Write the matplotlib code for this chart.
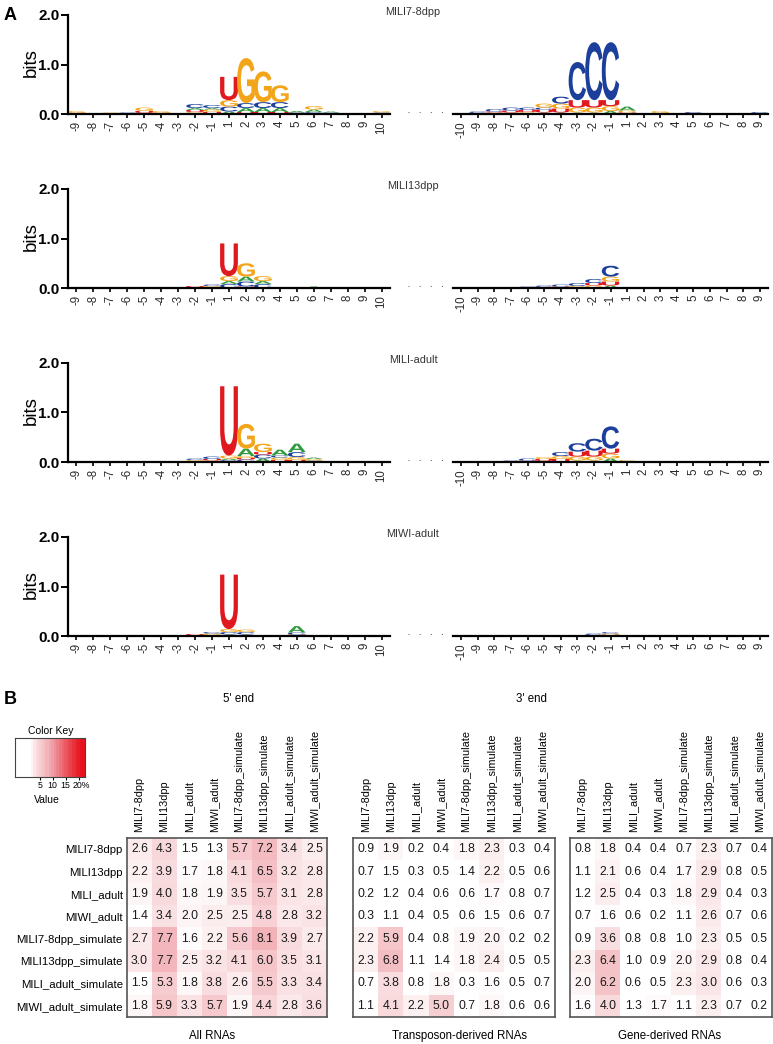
import matplotlib
matplotlib.use("Agg")
import matplotlib.pyplot as plt
import numpy as np
from matplotlib.textpath import TextPath
from matplotlib.patches import PathPatch
from matplotlib.font_manager import FontProperties
import matplotlib.transforms as mtransforms
from matplotlib.colors import LinearSegmentedColormap, PowerNorm

plt.rcParams['font.family'] = ['Liberation Sans', 'DejaVu Sans']

# ---------------- DATA ----------------
positions_5p = ["-9", "-8", "-7", "-6", "-5", "-4", "-3", "-2", "-1",
                "1", "2", "3", "4", "5", "6", "7", "8", "9", "10"]
positions_3p = ["-10", "-9", "-8", "-7", "-6", "-5", "-4", "-3", "-2", "-1",
                "1", "2", "3", "4", "5", "6", "7", "8", "9"]
sample_titles = ["MILI7-8dpp", "MILI13dpp", "MILI-adult", "MIWI-adult"]

# stacks: position -> [(letter, bits), ...] bottom to top
logo5_mili78 = {
    "-9": [("C", 0.02), ("G", 0.04)], "-8": [("G", 0.02)], "-7": [("G", 0.03)],
    "-6": [("C", 0.03)], "-5": [("A", 0.02), ("U", 0.04), ("G", 0.07)],
    "-4": [("C", 0.02), ("G", 0.04)], "-3": [("G", 0.02)],
    "-2": [("G", 0.04), ("U", 0.04), ("A", 0.04), ("C", 0.08)],
    "-1": [("U", 0.04), ("G", 0.05), ("A", 0.03), ("C", 0.06)],
    "1": [("A", 0.05), ("C", 0.10), ("G", 0.13), ("U", 0.47)],
    "2": [("U", 0.04), ("A", 0.08), ("C", 0.10), ("G", 0.91)],
    "3": [("U", 0.04), ("A", 0.08), ("C", 0.12), ("G", 0.62)],
    "4": [("U", 0.04), ("A", 0.08), ("C", 0.12), ("G", 0.34)],
    "5": [("C", 0.03), ("A", 0.03)],
    "6": [("C", 0.04), ("A", 0.05), ("G", 0.07)],
    "7": [("C", 0.03), ("A", 0.02)], "8": [], "9": [("G", 0.02)],
    "10": [("C", 0.03), ("G", 0.03)],
}
logo3_mili78 = {
    "-10": [("C", 0.02)], "-9": [("A", 0.02), ("C", 0.03)],
    "-8": [("G", 0.03), ("U", 0.02), ("C", 0.05)],
    "-7": [("G", 0.03), ("U", 0.04), ("C", 0.06)],
    "-6": [("G", 0.04), ("U", 0.04), ("C", 0.05)],
    "-5": [("A", 0.03), ("U", 0.06), ("C", 0.04), ("G", 0.08)],
    "-4": [("A", 0.03), ("U", 0.08), ("G", 0.10), ("C", 0.14)],
    "-3": [("A", 0.03), ("G", 0.10), ("U", 0.15), ("C", 0.77)],
    "-2": [("A", 0.03), ("G", 0.10), ("U", 0.15), ("C", 1.17)],
    "-1": [("A", 0.06), ("G", 0.10), ("U", 0.12), ("C", 1.17)],
    "1": [("U", 0.03), ("G", 0.04), ("A", 0.08)], "2": [],
    "3": [("U", 0.02), ("G", 0.04)], "4": [], "5": [("C", 0.04)],
    "6": [("C", 0.02)], "7": [], "8": [], "9": [("C", 0.04)],
}
logo5_mili13 = {
    "-4": [("C", 0.02)], "-3": [("G", 0.02)],
    "-2": [("C", 0.02), ("U", 0.02)],
    "-1": [("U", 0.02), ("G", 0.02), ("C", 0.03)],
    "1": [("C", 0.08), ("A", 0.06), ("G", 0.10), ("U", 0.66)],
    "2": [("U", 0.03), ("C", 0.10), ("A", 0.10), ("G", 0.27)],
    "3": [("C", 0.08), ("A", 0.06), ("G", 0.10)],
    "4": [("C", 0.02)], "5": [("G", 0.02)], "6": [("A", 0.03)],
}
logo3_mili13 = {
    "-8": [("C", 0.02)], "-7": [("G", 0.02)], "-6": [("C", 0.03)],
    "-5": [("G", 0.02), ("C", 0.03)],
    "-4": [("U", 0.03), ("C", 0.04)],
    "-3": [("G", 0.04), ("C", 0.06)],
    "-2": [("G", 0.05), ("U", 0.05), ("C", 0.08)],
    "-1": [("A", 0.05), ("U", 0.08), ("G", 0.10), ("C", 0.22)],
    "1": [("G", 0.02)],
}
logo5_miliad = {
    "-3": [("C", 0.02)],
    "-2": [("U", 0.02), ("G", 0.02), ("C", 0.03)],
    "-1": [("G", 0.03), ("U", 0.03), ("C", 0.05)],
    "1": [("C", 0.04), ("A", 0.03), ("G", 0.06), ("U", 1.40)],
    "2": [("C", 0.05), ("U", 0.03), ("G", 0.04), ("A", 0.15), ("G", 0.50)],
    "3": [("A", 0.07), ("C", 0.08), ("U", 0.05), ("G", 0.17)],
    "4": [("U", 0.04), ("G", 0.05), ("C", 0.04), ("A", 0.12)],
    "5": [("U", 0.04), ("G", 0.06), ("C", 0.10), ("A", 0.17)],
    "6": [("C", 0.03), ("G", 0.03), ("A", 0.03)],
    "7": [("A", 0.02)],
}
logo3_miliad = {
    "-7": [("C", 0.03)], "-6": [("U", 0.03), ("C", 0.04)],
    "-5": [("C", 0.02), ("U", 0.04), ("G", 0.04)],
    "-4": [("U", 0.06), ("G", 0.06), ("C", 0.08)],
    "-3": [("A", 0.03), ("G", 0.08), ("U", 0.10), ("C", 0.17)],
    "-2": [("A", 0.03), ("G", 0.08), ("U", 0.12), ("C", 0.24)],
    "-1": [("A", 0.07), ("G", 0.10), ("U", 0.10), ("C", 0.45)],
    "1": [("G", 0.04)],
}
logo5_miwiad = {
    "-2": [("C", 0.02), ("U", 0.02)],
    "-1": [("U", 0.02), ("G", 0.03), ("C", 0.03)],
    "1": [("A", 0.03), ("C", 0.05), ("G", 0.06), ("U", 1.10)],
    "2": [("A", 0.03), ("C", 0.05), ("G", 0.05)],
    "3": [("C", 0.02)],
    "5": [("U", 0.03), ("C", 0.04), ("A", 0.13)],
    "6": [("G", 0.02)],
}
logo3_miwiad = {
    "-3": [("C", 0.02)], "-2": [("U", 0.02), ("C", 0.03)],
    "-1": [("U", 0.03), ("G", 0.02), ("C", 0.03)],
}
logos_5p = [logo5_mili78, logo5_mili13, logo5_miliad, logo5_miwiad]
logos_3p = [logo3_mili78, logo3_mili13, logo3_miliad, logo3_miwiad]

heat_labels = ["MILI7-8dpp", "MILI13dpp", "MILI_adult", "MIWI_adult",
               "MILI7-8dpp_simulate", "MILI13dpp_simulate",
               "MILI_adult_simulate", "MIWI_adult_simulate"]
panel_titles = ["All RNAs", "Transposon-derived RNAs", "Gene-derived RNAs"]

all_rnas = [
    [2.6, 4.3, 1.5, 1.3, 5.7, 7.2, 3.4, 2.5],
    [2.2, 3.9, 1.7, 1.8, 4.1, 6.5, 3.2, 2.8],
    [1.9, 4.0, 1.8, 1.9, 3.5, 5.7, 3.1, 2.8],
    [1.4, 3.4, 2.0, 2.5, 2.5, 4.8, 2.8, 3.2],
    [2.7, 7.7, 1.6, 2.2, 5.6, 8.1, 3.9, 2.7],
    [3.0, 7.7, 2.5, 3.2, 4.1, 6.0, 3.5, 3.1],
    [1.5, 5.3, 1.8, 3.8, 2.6, 5.5, 3.3, 3.4],
    [1.8, 5.9, 3.3, 5.7, 1.9, 4.4, 2.8, 3.6],
]
transposon_rnas = [
    [0.9, 1.9, 0.2, 0.4, 1.8, 2.3, 0.3, 0.4],
    [0.7, 1.5, 0.3, 0.5, 1.4, 2.2, 0.5, 0.6],
    [0.2, 1.2, 0.4, 0.6, 0.6, 1.7, 0.8, 0.7],
    [0.3, 1.1, 0.4, 0.5, 0.6, 1.5, 0.6, 0.7],
    [2.2, 5.9, 0.4, 0.8, 1.9, 2.0, 0.2, 0.2],
    [2.3, 6.8, 1.1, 1.4, 1.8, 2.4, 0.5, 0.5],
    [0.7, 3.8, 0.8, 1.8, 0.3, 1.6, 0.5, 0.7],
    [1.1, 4.1, 2.2, 5.0, 0.7, 1.8, 0.6, 0.6],
]
gene_rnas = [
    [0.8, 1.8, 0.4, 0.4, 0.7, 2.3, 0.7, 0.4],
    [1.1, 2.1, 0.6, 0.4, 1.7, 2.9, 0.8, 0.5],
    [1.2, 2.5, 0.4, 0.3, 1.8, 2.9, 0.4, 0.3],
    [0.7, 1.6, 0.6, 0.2, 1.1, 2.6, 0.7, 0.6],
    [0.9, 3.6, 0.8, 0.8, 1.0, 2.3, 0.5, 0.5],
    [2.3, 6.4, 1.0, 0.9, 2.0, 2.9, 0.8, 0.4],
    [2.0, 6.2, 0.6, 0.5, 2.3, 3.0, 0.6, 0.3],
    [1.6, 4.0, 1.3, 1.7, 1.1, 2.3, 0.7, 0.2],
]
heat_data = [all_rnas, transposon_rnas, gene_rnas]
key_ticks = [5, 10, 15, 20]
key_ticklabels = ["5", "10", "15", "20%"]

# ---------------- STYLE ----------------
W, H = 773, 1044
fig = plt.figure(figsize=(W / 100, H / 100), dpi=100)
fig.patch.set_facecolor("white")


def rect(x0, y0, x1, y1):
    return [x0 / W, 1 - y1 / H, (x1 - x0) / W, (y1 - y0) / H]


def fx(x):
    return x / W


def fy(y):
    return 1 - y / H


LETTER_COLORS = {"U": "#e0191f", "G": "#f3a51a", "C": "#1c3f9b", "A": "#2f9a3e"}
fp = FontProperties(family="Liberation Sans", weight="bold")
_glyphs = {}


def draw_letter(ax, letter, x, y, w, h):
    if letter not in _glyphs:
        p = TextPath((0, 0), letter, size=1, prop=fp)
        _glyphs[letter] = (p, p.get_extents())
    p, ext = _glyphs[letter]
    t = (mtransforms.Affine2D().translate(-ext.x0, -ext.y0)
         .scale(w / ext.width, h / ext.height).translate(x - w / 2, y))
    ax.add_patch(PathPatch(t.transform_path(p), fc=LETTER_COLORS[letter],
                           ec="none", lw=0))


def draw_logo(ax, positions, stacks):
    for i, pos in enumerate(positions):
        y = 0.0
        for letter, h in stacks.get(pos, []):
            draw_letter(ax, letter, i, y, 1.05, h)
            y += h


def style_logo_axis(ax, positions, left):
    ax.set_xlim(-0.5, len(positions) - 0.5)
    ax.set_ylim(0, 2.0)
    for s in ["top", "right"]:
        ax.spines[s].set_visible(False)
    ax.spines["bottom"].set_linewidth(1.6)
    ax.set_xticks(range(len(positions)))
    ax.set_xticklabels(positions, rotation=90, fontsize=8.3, color="#2a2a2a")
    ax.set_xticks([4, 9, 14], minor=True)
    ax.tick_params(axis="x", which="major", length=3, width=1.2, pad=2)
    ax.tick_params(axis="x", which="minor", length=6, width=1.4)
    if left:
        ax.spines["left"].set_linewidth(1.6)
        ax.set_yticks([0, 1, 2])
        ax.set_yticklabels(["0.0", "1.0", "2.0"], fontsize=11, fontweight="bold")
        ax.tick_params(axis="y", length=5, width=1.4, pad=1)
    else:
        ax.spines["left"].set_visible(False)
        ax.set_yticks([])
    ax.patch.set_alpha(0)


for k in range(4):
    top = 15 + 174 * k
    bot = 114 + 174 * k
    axl = fig.add_axes(rect(68, top, 390, bot))
    style_logo_axis(axl, positions_5p, True)
    draw_logo(axl, positions_5p, logos_5p[k])
    axr = fig.add_axes(rect(453, top, 768, bot))
    style_logo_axis(axr, positions_3p, False)
    draw_logo(axr, positions_3p, logos_3p[k])
    fig.text(fx(31), fy((top + bot) / 2 - 2), "bits", rotation=90, fontsize=13.5,
             ha="center", va="center")
    fig.text(fx(413), fy(12 + 174 * k), sample_titles[k], fontsize=7.8,
             ha="center", va="center", color="#333333")
    fig.text(fx(426), fy(bot - 1), "·  ·  ·  ·", fontsize=9, ha="center",
             va="center", color="#555555")

fig.text(fx(4), fy(15), "A", fontsize=13, fontweight="bold", ha="left", va="center")
fig.text(fx(4), fy(700), "B", fontsize=13, fontweight="bold", ha="left", va="center")
fig.text(fx(239), fy(699), "5' end", fontsize=8.3, ha="center", va="center")
fig.text(fx(532), fy(699), "3' end", fontsize=8.3, ha="center", va="center")

# colour map
cmap = LinearSegmentedColormap.from_list("wr", ["#ffffff", "#f0a9b0", "#e8101a"])
norm = PowerNorm(gamma=0.75, vmin=1.5, vmax=21.0, clip=True)

# colour key
axk = fig.add_axes(rect(15, 738, 85, 777))
edges = np.arange(-4.5, 23.5, 1.0)
centers = (edges[:-1] + edges[1:]) / 2
axk.pcolormesh(edges, [0, 1], centers[None, :], cmap=cmap, norm=norm,
               shading="flat")
axk.set_xlim(-4.5, 22.5)
axk.set_ylim(0, 1)
axk.set_yticks([])
axk.set_xticks(key_ticks)
axk.set_xticklabels(key_ticklabels, fontsize=6.3)
axk.tick_params(axis="x", length=2, width=0.8, pad=1)
last = axk.get_xticklabels()[-1]
last.set_transform(last.get_transform() +
                   mtransforms.ScaledTranslation(2.5 / 100, 0, fig.dpi_scale_trans))
for s in axk.spines.values():
    s.set_linewidth(0.8)
    s.set_color("#444444")
fig.text(fx(51), fy(731), "Color Key", fontsize=7.5, ha="center", va="center")
fig.text(fx(47), fy(800), "Value", fontsize=7.5, ha="center", va="center")

# heatmaps
panel_x = [(127, 327), (353, 555), (570, 772)]
label_cx = [212, 459, 670]
for p, (x0, x1) in enumerate(panel_x):
    ax = fig.add_axes(rect(x0, 838, x1, 1017))
    data = np.array(heat_data[p])
    ax.imshow(data, cmap=cmap, norm=norm, aspect="auto", interpolation="nearest")
    for r in range(data.shape[0]):
        for c in range(data.shape[1]):
            ax.text(c, r, f"{data[r, c]:.1f}", ha="center", va="center",
                    fontsize=8.8, color="#1a1a1a")
    ax.xaxis.tick_top()
    ax.set_xticks(range(len(heat_labels)))
    ax.set_xticklabels(heat_labels, rotation=90, fontsize=7.8)
    ax.tick_params(axis="x", length=0, pad=4)
    if p == 0:
        ax.set_yticks(range(len(heat_labels)))
        ax.set_yticklabels(heat_labels, fontsize=8.2)
        ax.tick_params(axis="y", length=0, pad=3)
    else:
        ax.set_yticks([])
    for s in ax.spines.values():
        s.set_linewidth(1.2)
        s.set_color("#555555")
    fig.text(fx(label_cx[p]), fy(1036), panel_titles[p], fontsize=8.3,
             ha="center", va="center")

fig.savefig("out.png", dpi=100, facecolor="white")
